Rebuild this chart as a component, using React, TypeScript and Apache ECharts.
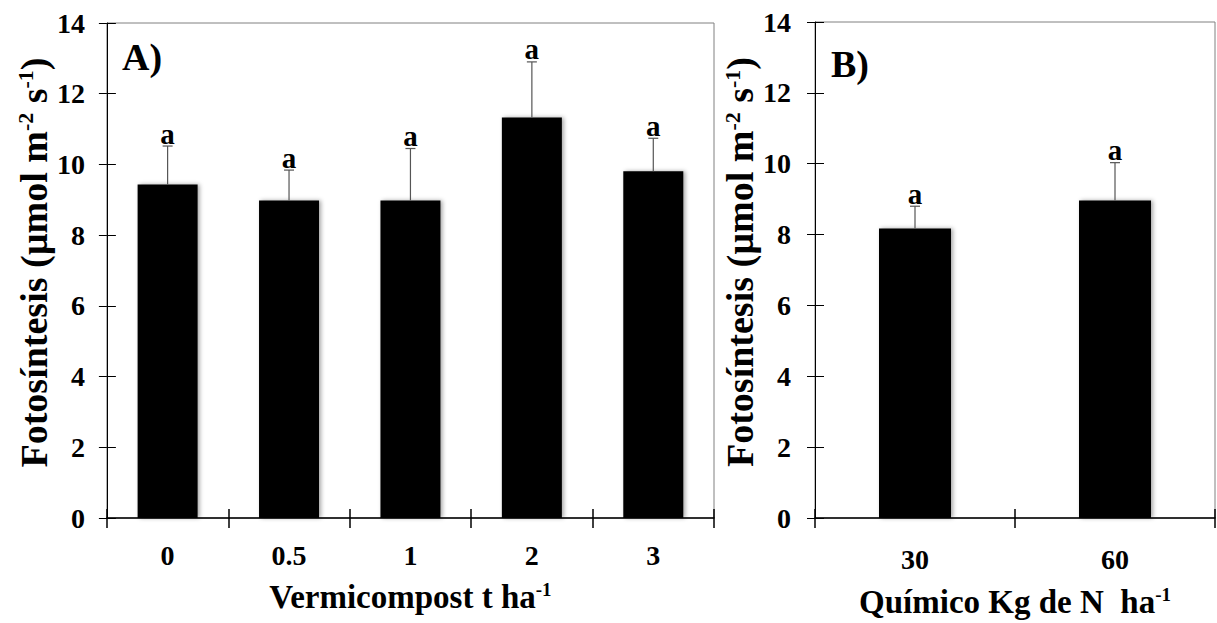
import React, { useEffect, useRef } from 'react';
import * as echarts from 'echarts';

const FONT = "'Liberation Serif', 'Times New Roman', serif";

const catsA = ['0', '0.5', '1', '2', '3'];
const meanA = [9.43, 8.98, 8.98, 11.33, 9.81];
const upperA = [10.52, 9.84, 10.45, 12.9, 10.74];
const lettersA = ['a', 'a', 'a', 'a', 'a'];

const catsB = ['30', '60'];
const meanB = [8.17, 8.96];
const upperB = [8.8, 10.03];
const lettersB = ['a', 'a'];

const Y_MIN = 0;
const Y_MAX = 14;
const Y_STEP = 2;

const titleA = 'Vermicompost t ha{sup|-1}';
const titleB = 'Químico Kg de N  ha{sup|-1}';
const titleY = 'Fotosíntesis (µmol m{sup|-2} s{sup|-1})';

function nameStyle(size: number, padding?: number[]) {
  return {
    fontFamily: FONT,
    fontWeight: 'bold',
    fontSize: size,
    color: '#000',
    lineHeight: size,
    padding: padding || 0,
    rich: {
      sup: {
        fontFamily: FONT,
        fontWeight: 'bold',
        fontSize: Math.round(size * 0.58),
        color: '#000',
        verticalAlign: 'top',
        lineHeight: size,
      },
    },
  };
}

function yMain(gridIndex: number, gap: number, margin: number) {
  return {
    type: 'value',
    gridIndex,
    min: Y_MIN,
    max: Y_MAX,
    interval: Y_STEP,
    position: 'left',
    axisLine: { show: true, lineStyle: { color: '#000', width: 1 } },
    axisTick: { show: true, length: 8, lineStyle: { color: '#000', width: 1 } },
    axisLabel: { fontFamily: FONT, fontWeight: 'bold', fontSize: 28, color: '#000', margin },
    splitLine: { show: false },
    name: titleY,
    nameLocation: 'middle',
    nameRotate: 90,
    nameGap: gap,
    nameTextStyle: nameStyle(38, [0, 0, 0, 16]),
  };
}

function yOverlay(gridIndex: number) {
  return {
    type: 'value',
    gridIndex,
    min: Y_MIN,
    max: Y_MAX,
    interval: Y_STEP,
    position: 'left',
    axisLine: { show: false },
    axisTick: { show: true, inside: true, length: 9, lineStyle: { color: '#000', width: 1 } },
    axisLabel: { show: false },
    splitLine: { show: false },
  };
}

function xMain(gridIndex: number, data: string[], name: string, gap: number, margin: number) {
  return {
    type: 'category',
    gridIndex,
    data,
    boundaryGap: true,
    position: 'bottom',
    axisLine: { show: true, lineStyle: { color: '#000', width: 1.5 } },
    axisTick: { show: true, length: 10, lineStyle: { color: '#000', width: 1.5 } },
    axisLabel: { fontFamily: FONT, fontWeight: 'bold', fontSize: 28, color: '#000', margin },
    name,
    nameLocation: 'middle',
    nameGap: gap,
    nameTextStyle: nameStyle(33),
  };
}

function xOverlay(gridIndex: number, data: string[]) {
  return {
    type: 'category',
    gridIndex,
    data,
    boundaryGap: true,
    position: 'bottom',
    axisLine: { show: false },
    axisTick: { show: true, inside: true, length: 9, lineStyle: { color: '#000', width: 1.5 } },
    axisLabel: { show: false },
  };
}

function errorSeries(xi: number, yi: number, means: number[], uppers: number[], letters: string[]) {
  return {
    type: 'custom',
    xAxisIndex: xi,
    yAxisIndex: yi,
    z: 5,
    data: means.map((m, i) => [i, m, uppers[i]]),
    renderItem: (params: any, api: any) => {
      const i = api.value(0);
      const base = api.coord([i, api.value(1)]);
      const top = api.coord([i, api.value(2)]);
      const letter = letters[params.dataIndex];
      return {
        type: 'group',
        children: [
          {
            type: 'line',
            shape: { x1: base[0], y1: base[1], x2: top[0], y2: top[1] },
            style: { stroke: '#555', lineWidth: 1.2 },
          },
          {
            type: 'line',
            shape: { x1: top[0] - 5, y1: top[1], x2: top[0] + 5, y2: top[1] },
            style: { stroke: '#555', lineWidth: 1.2 },
          },
          {
            type: 'text',
            x: top[0],
            y: top[1] + 2,
            style: {
              text: letter,
              fontFamily: FONT,
              fontWeight: 'bold',
              fontSize: 29,
              fill: '#000',
              align: 'center',
              verticalAlign: 'bottom',
            },
          },
        ],
      };
    },
  };
}

function barSeries(xi: number, yi: number, values: number[], width: number) {
  return {
    type: 'bar',
    xAxisIndex: xi,
    yAxisIndex: yi,
    data: values,
    barWidth: width,
    itemStyle: {
      color: '#000',
      shadowColor: 'rgba(0,0,0,0.35)',
      shadowBlur: 4,
      shadowOffsetX: 2,
    },
  };
}

export default function App() {
  const ref = useRef<HTMLDivElement>(null);
  useEffect(() => {
    const chart = echarts.init(ref.current!, null, { renderer: 'svg' });
    const option: any = {
      animation: false,
      backgroundColor: '#fff',
      grid: [
        { left: 100, top: 23, right: 503, bottom: 105, show: true, borderColor: '#808080', borderWidth: 1 },
        { left: 815, top: 22, right: 2, bottom: 100, show: true, borderColor: '#808080', borderWidth: 1 },
      ],
      xAxis: [
        xMain(0, catsA, titleA, 62, 23),
        xOverlay(0, catsA),
        xMain(1, catsB, titleB, 67, 27),
        xOverlay(1, catsB),
      ],
      yAxis: [yMain(0, 54, 22), yOverlay(0), yMain(1, 53, 24), yOverlay(1)],
      series: [
        barSeries(0, 0, meanA, 60),
        errorSeries(0, 0, meanA, upperA, lettersA),
        barSeries(2, 2, meanB, 72),
        errorSeries(2, 2, meanB, upperB, lettersB),
      ],
      graphic: [
        {
          type: 'text',
          left: 122,
          top: 38,
          style: { text: 'A)', fontFamily: FONT, fontWeight: 'bold', fontSize: 38, fill: '#000' },
        },
        {
          type: 'text',
          left: 831,
          top: 45,
          style: { text: 'B)', fontFamily: FONT, fontWeight: 'bold', fontSize: 38, fill: '#000' },
        },
      ],
    };
    chart.setOption(option);
    return () => chart.dispose();
  }, []);
  return (
    <div
      ref={ref}
      style={{ position: 'fixed', left: 0, top: 0, width: 1217, height: 623, background: '#fff' }}
    />
  );
}
